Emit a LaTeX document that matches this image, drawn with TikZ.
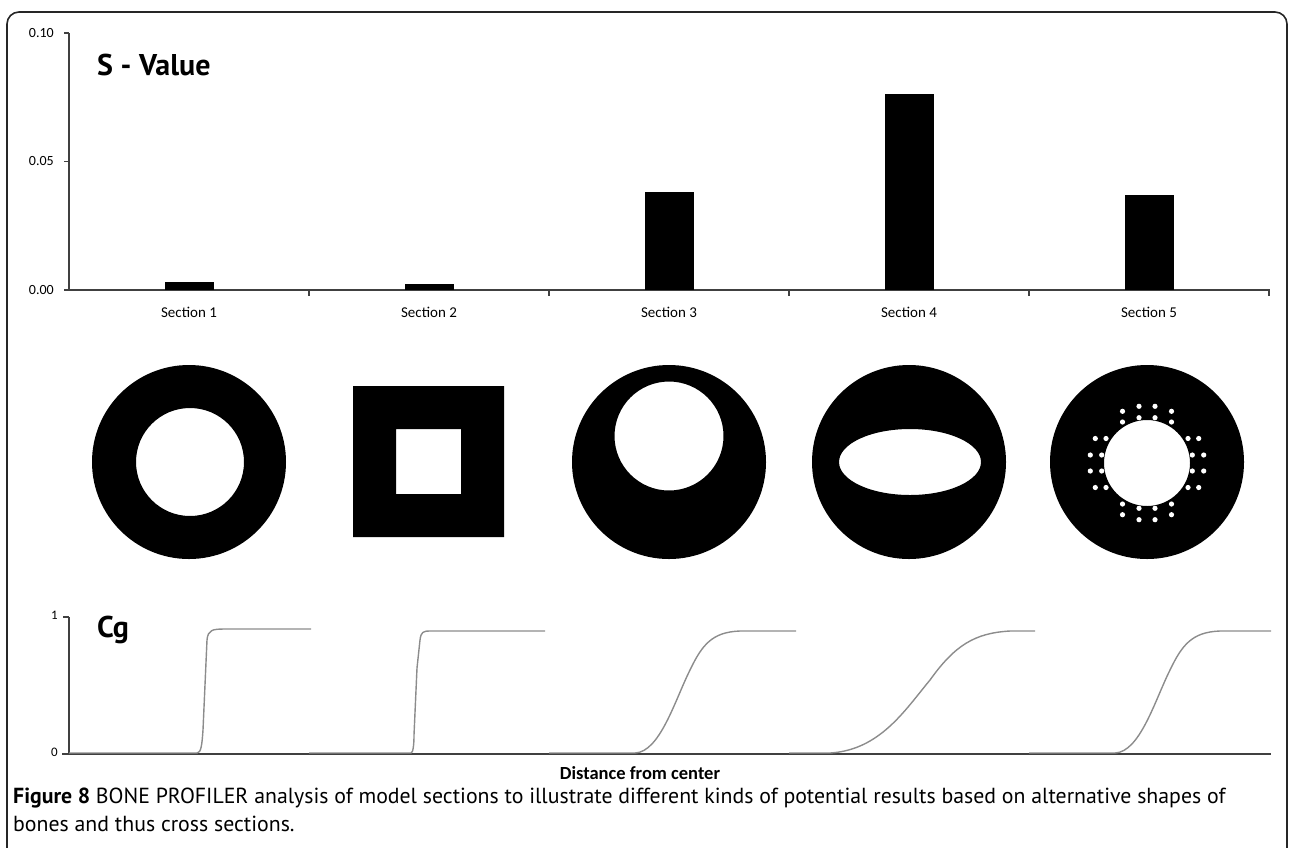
\documentclass[tikz,border=0pt]{standalone}
\usepackage{fontspec}
\setmainfont{PT Sans}
\newfontfamily\chartfont{Carlito}

\definecolor{axisgray}{gray}{0.25}
\definecolor{curvegray}{gray}{0.55}
\definecolor{framegray}{gray}{0.15}

\begin{document}
\begin{tikzpicture}[x = 1pt, y = -1pt]

\tikzset{
	axisline/.style = {axisgray, line width = 1.3pt},
	cgaxis/.style = {axisgray, line width = 2pt},
	cgcurve/.style = {curvegray, line width = 1.4pt, line join = round},
	ticklabel/.style = {anchor = east, inner sep = 0pt, font = \chartfont\fontsize{14}{16}\selectfont},
	seclabel/.style = {inner sep = 0pt, font = \chartfont\fontsize{15}{17}\selectfont},
	charttitle/.style = {anchor = base west, inner sep = 0pt, font = \bfseries\fontsize{30}{34}\selectfont},
	bone/.style = {fill = black, even odd rule}
}

\useasboundingbox (0,0) rectangle (1289,847);

%% Draw Frame

\draw[framegray, line width = 1.6pt, rounded corners = 12] (7,860) -- (7,12) -- (1287,12) -- (1287,860);

%% Draw S-Value Axes

\draw[axisline] (69,33) -- (69,290) -- (1270,290);

\foreach \y in {33, 161.5, 290}{
	\draw[axisline] (64,\y) -- (69,\y);
}

\foreach \x in {309, 549, 789, 1029, 1269}{
	\draw[axisline] (\x,290) -- (\x,296);
}

\node[ticklabel] (tickten) at (54,33) {0.10};
\node[ticklabel] (tickfive) at (54,161.5) {0.05};
\node[ticklabel] (tickzero) at (54,290) {0.00};

\node[charttitle] (svalue) at (97,75) {S - Value};

%% Draw Bars

\foreach \i/\top in {1/282, 2/284, 3/192, 4/94, 5/195}{
	\filldraw[black] ({240*\i-75},289) rectangle ({240*\i-27},\top);
	\node[seclabel] (sec\i) at ({240*\i-51},312) {Section \i};
}

%% Draw Sections

% ring
\fill[bone] (189,462) circle (97) (190,462) circle (54);

% square
\fill[bone] (353,386) rectangle (504,537) (396,429) rectangle (461,494);

% eccentric hole
\fill[bone] (669,462) circle (97) (669,436) circle (54.5);

% flat hole
\fill[bone] (909,462) circle (97) (910,462) ellipse (71 and 33);

% hole with pores
\fill[bone] (1147,462) circle (97) (1147,463) circle (43);

\begin{scope}[shift = {(1147,463)}]
\foreach \r in {0, 90, 180, 270}{
	\foreach \dx/\dy in {-24.5/-51.7, -8/-56.7, 8/-56.7, 24.5/-51.7,
	                     -24.5/-41, -8/-45.3, 8/-45.3, 24.5/-41}{
		\fill[white, rotate = \r] (\dx,\dy) circle (2.6);
	}
}
\end{scope}

%% Draw Cg Axes

\draw[cgaxis] (69,617) -- (69,754) -- (1271,754);
\draw[cgaxis] (63,617) -- (69,617);
\draw[cgaxis] (62,754) -- (69,754);

\node[ticklabel, font = \chartfont\fontsize{13}{15}\selectfont] (cgone) at (58,615) {1};
\node[ticklabel, font = \chartfont\fontsize{13}{15}\selectfont] (cgzero) at (58,752) {0};

\node[charttitle, font = \bfseries\fontsize{30}{34}\selectfont] (cg) at (97,637) {Cg};

%% Draw Cg Curves

\draw[cgcurve] (69,753) -- (197,753) .. controls (201,753) and (202,745) .. (203,730)
	-- (207,640) .. controls (208,630) and (212,629) .. (225,629) -- (311,629);

\draw[cgcurve] (309,753) -- (411,753) .. controls (413,753) and (414,745) .. (414,735)
	-- (417,668) -- (420,640) .. controls (421,632) and (423,631) .. (430,631) -- (545,631);

\draw[cgcurve] (549,753) -- (635,753) .. controls (660,752) and (675,700) .. (690,670)
	.. controls (702,645) and (712,632) .. (740,631) -- (796,631);

\draw[cgcurve] (789,753) -- (830,753) .. controls (880,750) and (905,710) .. (930,680)
	.. controls (955,645) and (975,633) .. (1010,631) -- (1035,631);

\draw[cgcurve] (1029,753) -- (1115,753) .. controls (1140,752) and (1155,700) .. (1170,670)
	.. controls (1182,645) and (1192,632) .. (1220,631) -- (1271,631);

\node[inner sep = 0pt, font = \chartfont\bfseries\fontsize{18.5}{20}\selectfont] (dist) at (640,773) {Distance from center};

%% Caption

\node[anchor = base west, inner sep = 0pt, align = left, font = \fontsize{21.8}{28}\selectfont] (caption) at (13,831)
	{\textbf{Figure 8} BONE PROFILER analysis of model sections to illustrate different kinds of potential results based on alternative shapes of\\
	bones and thus cross sections.};

\end{tikzpicture}
\end{document}
